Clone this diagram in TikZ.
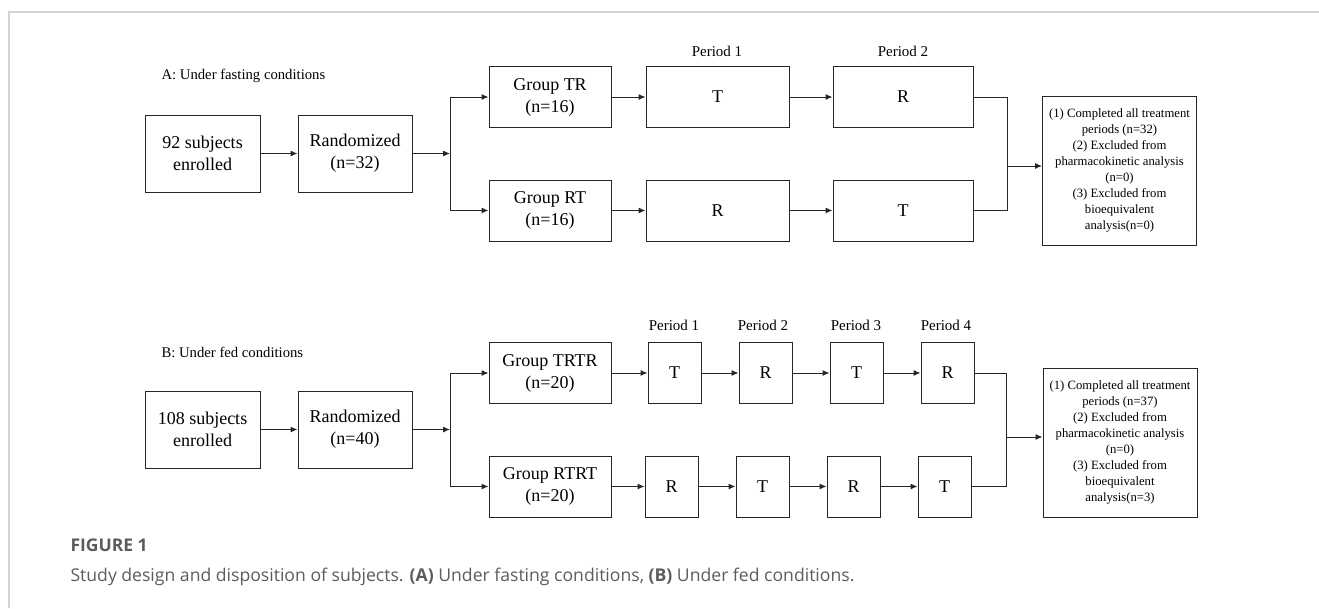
\documentclass[tikz,border=0pt]{standalone}
\usepackage{fontspec}
\setmainfont{Liberation Serif}
\newfontfamily\capfont{Open Sans}
\usetikzlibrary{arrows.meta,calc}
\definecolor{ink}{HTML}{262626}
\definecolor{framegray}{HTML}{D2D2D2}
\definecolor{capgray}{HTML}{5C5C5C}
\tikzset{
  box/.style n args={2}{draw=ink,line width=1pt,align=center,inner sep=0pt,
    minimum width=#1,minimum height=#2,font=\fontsize{18}{22}\selectfont},
  outbox/.style={box={154}{149},font=\fontsize{12.7}{16}\selectfont},
  arr/.style={-{Latex[length=7pt,width=6pt]},line width=1pt,draw=ink},
  ln/.style={line width=1pt,draw=ink},
  plabel/.style={font=\fontsize{15}{18}\selectfont},
  panel/.style={font=\fontsize{14.7}{18}\selectfont,anchor=west},
}
\begin{document}
\begin{tikzpicture}[x=1pt,y=-1pt]
  \useasboundingbox (0,0) rectangle (1319,608);
  % page frame
  \draw[draw=framegray,line width=1.5pt] (9,608) -- (9,12) -- (1319,12);
  % panel A
  \node[panel] (labA) at (158,76) {A: Under fasting conditions};
  \node[box={115}{77}] (enrA) at (202.5,153.5) {92 subjects\\enrolled};
  \node[box={114}{77}] (rndA) at (355,153.5) {Randomized\\(n=32)};
  \node[box={122}{61}] (grpTRa) at (550,97) {Group TR\\(n=16)};
  \node[box={122}{61}] (grpRTa) at (550,210.5) {Group RT\\(n=16)};
  \node[box={143}{61}] (pA1t) at (717.5,97) {T};
  \node[box={140}{61}] (pA2t) at (903,97) {R};
  \node[box={143}{61}] (pA1b) at (717.5,210.5) {R};
  \node[box={140}{61}] (pA2b) at (903,210.5) {T};
  \node[plabel] (perA1) at (717,51) {Period 1};
  \node[plabel] (perA2) at (903,51) {Period 2};
  \node[outbox] (outA) at (1119.5,170.5) {(1) Completed all treatment\\periods (n=32)\\(2) Excluded from\\pharmacokinetic analysis\\(n=0)\\(3) Excluded from\\bioequivalent\\analysis(n=0)};
  \coordinate (sA) at (450,153.5);
  \coordinate (jA) at (1007,166);
  \draw[arr] (enrA) -- (rndA);
  \draw[arr] (rndA) -- (sA);
  \draw[arr] (sA) |- (grpTRa);
  \draw[arr] (sA) |- (grpRTa);
  \draw[arr] (grpTRa) -- (pA1t);
  \draw[arr] (pA1t) -- (pA2t);
  \draw[arr] (grpRTa) -- (pA1b);
  \draw[arr] (pA1b) -- (pA2b);
  \draw[ln] (pA2t.east) -| (jA) |- (pA2b.east);
  \draw[arr] (jA) -- (jA -| outA.west);
  % panel B
  \node[panel] (labB) at (158,352) {B: Under fed conditions};
  \node[box={115}{77}] (enrB) at (202.5,429.5) {108 subjects\\enrolled};
  \node[box={114}{77}] (rndB) at (355,429.5) {Randomized\\(n=40)};
  \node[box={122}{61}] (grpTRTR) at (550,373) {Group TRTR\\(n=20)};
  \node[box={122}{61}] (grpRTRT) at (550,486.5) {Group RTRT\\(n=20)};
  \node[box={53}{61}] (pB1t) at (674.5,373) {T};
  \node[box={53}{61}] (pB2t) at (765.5,373) {R};
  \node[box={53}{61}] (pB3t) at (856.5,373) {T};
  \node[box={53}{61}] (pB4t) at (947.5,373) {R};
  \node[box={53}{61}] (pB1b) at (671.5,486.5) {R};
  \node[box={53}{61}] (pB2b) at (762.5,486.5) {T};
  \node[box={53}{61}] (pB3b) at (853.5,486.5) {R};
  \node[box={53}{61}] (pB4b) at (944.5,486.5) {T};
  \node[plabel] (perB1) at (674,325) {Period 1};
  \node[plabel] (perB2) at (763,325) {Period 2};
  \node[plabel] (perB3) at (856,325) {Period 3};
  \node[plabel] (perB4) at (946,325) {Period 4};
  \node[outbox] (outB) at (1120,442.5) {(1) Completed all treatment\\periods (n=37)\\(2) Excluded from\\pharmacokinetic analysis\\(n=0)\\(3) Excluded from\\bioequivalent\\analysis(n=3)};
  \coordinate (sB) at (450,429.5);
  \coordinate (jB) at (1006,437);
  \draw[arr] (enrB) -- (rndB);
  \draw[arr] (rndB) -- (sB);
  \draw[arr] (sB) |- (grpTRTR);
  \draw[arr] (sB) |- (grpRTRT);
  \draw[arr] (grpTRTR) -- (pB1t);
  \draw[arr] (pB1t) -- (pB2t);
  \draw[arr] (pB2t) -- (pB3t);
  \draw[arr] (pB3t) -- (pB4t);
  \draw[arr] (grpRTRT) -- (pB1b);
  \draw[arr] (pB1b) -- (pB2b);
  \draw[arr] (pB2b) -- (pB3b);
  \draw[arr] (pB3b) -- (pB4b);
  \draw[ln] (pB4t.east) -| (jB) |- (pB4b.east);
  \draw[arr] (jB) -- (jB -| outB.west);
  % caption
  \node[font=\capfont\bfseries\fontsize{17.5}{20}\selectfont,text=capgray,anchor=west] (figlab) at (67,545) {FIGURE 1};
  \node[font=\capfont\fontsize{17.6}{20}\selectfont,text=capgray,anchor=west] (figcap) at (67,577)
    {Study design and disposition of subjects. \textbf{(A)} Under fasting conditions, \textbf{(B)} Under fed conditions.};
\end{tikzpicture}
\end{document}
